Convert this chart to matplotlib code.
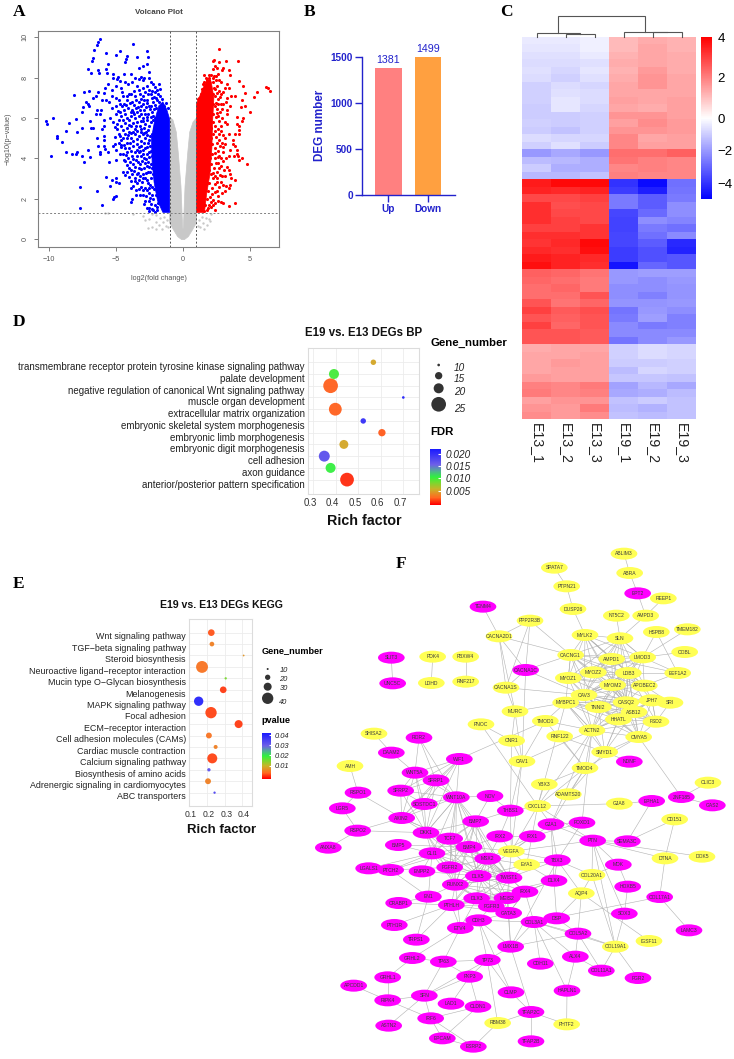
import itertools
import numpy as np
import matplotlib
matplotlib.use("Agg")
import matplotlib.pyplot as plt
from matplotlib.colors import LinearSegmentedColormap, Normalize, TwoSlopeNorm
from matplotlib.cm import ScalarMappable
from matplotlib.patches import Ellipse, Polygon
from matplotlib.collections import LineCollection
from matplotlib.transforms import ScaledTranslation

plt.rcParams['font.family'] = ['Liberation Sans', 'DejaVu Sans']

# ---------- panel A data ----------
grey_outline = [(-1.0,6.05),(-1.0,1.3),(-1.0,0.8),(-0.7,0.45),(-0.4,0.12),(-0.1,-0.03),(0.1,-0.03),(0.4,0.12),(0.7,0.45),
                (1.0,0.8),(1.0,1.3),(1.0,6.0),(0.75,5.8),(0.5,5.3),(0.35,4.26),(0.15,2.6),(0.03,0.6),(0.0,0.5),
                (-0.03,0.6),(-0.15,2.6),(-0.35,4.26),(-0.5,5.3),(-0.75,5.9)]
blue_core = [(-1.0,1.32),(-1.5,1.32),(-1.9,1.9),(-2.15,2.8),(-2.3,3.8),(-2.35,5.0),(-2.1,5.9),(-1.8,6.6),(-1.5,6.8),(-1.2,6.4),(-1.0,5.95)]
red_core = [(1.0,1.32),(1.6,1.32),(1.75,2.2),(2.0,3.2),(2.15,4.5),(2.2,5.8),(2.3,7.0),(2.1,7.8),(1.8,7.9),(1.5,7.5),(1.2,7.0),(1.0,6.7)]
grey_points = [(-3.7,1.25),(-3.0,1.15),(-2.8,0.95),(-2.5,1.0),(-2.6,0.55),(-2.3,0.6),(-2.0,0.85),(-2.0,0.5),(-1.7,1.05),(-1.8,0.7),
               (-1.6,0.5),(-1.5,0.85),(-1.4,1.1),(-1.3,0.65),(-1.2,0.95),(1.2,0.95),(1.3,0.6),(1.4,1.1),(1.5,0.8),(1.6,0.5),(1.7,1.05),
               (1.8,0.7),(1.9,1.0),(2.0,0.9),(-5.6,1.3),(-5.8,1.28),(-2.0,1.2),(-2.3,1.25),(2.1,1.25),(-1.1,0.6),(1.1,0.65)]
blue_points = [(-6.2,9.9),(-6.3,9.75),(-6.4,9.6),(-6.6,9.35),(-6.7,8.95),(-6.75,8.8),(-5.7,9.2),(-5.0,9.1),(-4.7,9.3),(-4.2,9.05),
 (-4.25,8.9),(-4.35,8.75),(-3.4,9.0),(-3.75,9.65),(-2.7,9.3),(-2.6,9.0),(-2.7,8.65),(-2.95,8.6),(-3.3,8.5),(-3.1,8.05),(-2.5,8.3),
 (-5.6,8.65),(-5.75,8.45),(-5.65,8.25),(-6.3,8.4),(-6.25,8.25),(-7.1,8.45),(-6.85,8.25),(-5.25,8.2),(-4.85,8.05),(-4.4,8.2),(-4.7,7.85),
 (-4.9,7.95),(-5.2,8.0),(-4.35,7.8),(-3.9,8.2),(-3.6,8.0),(-3.3,7.95),(-3.0,7.9),(-2.9,8.0),(-2.4,7.8),(-2.2,7.7),(-1.8,7.7),(-1.95,7.4),
 (-2.4,7.2),(-3.0,7.5),(-3.4,7.6),(-3.8,7.8),(-4.1,7.7),(-4.6,7.5),(-5.0,7.6),(-5.3,7.4),(-5.6,7.7),(-5.8,7.5),(-5.9,7.25),(-6.3,7.3),
 (-6.45,7.1),(-6.7,7.0),(-7.0,7.35),(-7.4,7.3),(-8.1,7.15),(-7.45,6.55),(-7.25,6.8),(-7.1,6.7),(-7.0,6.6),(-7.5,6.3),(-6.5,6.2),(-6.4,6.4),
 (-6.2,6.2),(-6.1,6.4),(-6.0,6.9),(-5.7,6.9),(-5.5,6.8),(-5.3,6.5),(-5.0,6.6),(-4.8,6.9),(-4.5,7.1),(-4.2,6.9),(-3.9,7.2),(-3.6,7.1),
 (-3.3,6.8),(-3.0,7.1),(-2.7,6.9),(-2.5,6.6),(-10.2,5.85),(-10.1,5.7),(-9.7,6.0),(-9.4,5.1),(-9.4,5.0),(-9.0,4.8),(-8.7,5.35),(-8.5,5.75),
 (-8.0,5.95),(-7.9,5.3),(-7.5,5.5),(-6.9,5.85),(-6.85,5.5),(-6.7,5.5),(-6.4,5.0),(-6.0,5.45),(-5.9,5.9),(-5.9,5.6),(-5.9,5.1),(-5.9,4.9),
 (-5.9,4.6),(-8.7,4.3),(-8.3,4.2),(-8.0,4.2),(-7.9,4.3),(-7.5,4.1),(-7.4,3.8),(-7.1,4.4),(-6.9,4.05),(-6.3,4.6),(-6.2,4.3),(-6.2,4.2),
 (-5.8,4.45),(-5.6,4.3),(-5.2,4.6),(-5.1,4.7),(-5.0,4.4),(-5.0,3.9),(-5.5,3.8),(-9.8,4.1),(-7.7,2.6),(-6.4,2.4),(-5.7,3.05),(-5.3,2.95),
 (-5.0,3.0),(-5.0,2.85),(-4.8,2.8),(-5.4,2.65),(-5.15,2.1),(-5.0,2.15),(-5.2,2.0),(-3.8,2.0),(-3.9,1.85),(-6.0,1.7),(-7.7,1.52),
 (-4.5,3.3),(-4.2,3.3),(-4.0,3.5),(-3.8,3.2),(-3.6,3.0),(-3.6,2.9),(-3.3,2.5),(-3.2,3.7),(-3.9,2.9),(-3.4,2.8),(-3.1,2.6),(-3.0,2.2),
 (-2.8,1.9),(-2.7,1.55),(-2.5,2.3),(-2.5,1.9),(-2.3,1.5),(-2.2,2.0),(-2.1,1.7),(-2.0,2.2),(-2.05,1.35),(-1.9,1.6),(-2.3,2.6),(-2.6,2.8),
 (-2.8,3.0),(-3.0,3.2),(-3.2,3.1),(-2.9,3.5),(-2.6,3.3),(-2.4,3.0),(-2.3,3.5),(-2.1,2.9),(-2.6,3.8),(-2.9,4.0),(-3.1,4.1),(-3.3,4.3),
 (-3.5,3.9),(-3.8,4.1),(-4.1,4.0),(-4.4,3.9),(-4.5,4.2),(-4.3,4.5),(-4.0,4.5),(-3.7,4.6),(-3.4,4.7),(-3.1,4.6),(-2.8,4.5),(-2.5,4.3),
 (-2.3,4.1),(-2.1,3.9),(-2.2,4.6),(-2.5,4.9),(-2.8,5.0),(-3.0,5.2),(-3.3,5.1),(-3.6,5.2),(-3.9,5.0),(-4.2,5.0),(-4.6,4.9),(-4.8,5.2),
 (-4.5,5.4),(-4.2,5.5),(-3.9,5.6),(-3.5,5.6),(-3.2,5.6),(-2.9,5.5),(-2.6,5.4),(-2.3,5.2),(-2.15,5.5),(-2.4,5.8),(-2.7,5.9),(-3.0,6.0),
 (-3.3,6.1),(-3.6,6.0),(-3.9,6.1),(-4.2,6.0),(-4.5,5.9),(-4.9,5.7),(-5.2,5.8),(-5.4,6.0),(-5.0,6.2),(-4.7,6.3),(-4.4,6.4),(-4.1,6.5),
 (-3.8,6.4),(-3.5,6.5),(-3.2,6.4),(-2.9,6.4),(-2.6,6.2),(-2.3,6.3),(-2.1,6.0),(-2.0,6.5),(-1.8,6.8),(-2.2,6.8),(-2.0,7.0),(-1.6,6.7),
 (-1.4,6.6),(-1.7,7.1),(-2.5,7.4),(-2.8,7.3),(-3.2,7.2),(-3.5,6.9),(-3.8,6.8),(-4.05,7.2),(-4.4,6.7),(-4.7,6.7),(-5.0,7.0),(-5.3,7.1),
 (-2.1,5.1),(-2.05,4.3),(-2.1,3.4),(-2.15,2.5),(-2.4,3.7),(-2.7,4.2),(-2.45,4.6),(-2.75,5.3),(-2.25,5.9),(-2.95,5.85),(-3.15,5.3),(-3.4,4.4),
 (-3.75,5.3),(-4.05,5.3),(-4.35,5.2),(-4.65,5.6),(-4.0,5.9),(-3.7,6.3),(-3.0,6.7),(-2.75,6.55),(-2.3,7.0)]
blue_points_dense = [(-2.45,2.05),(-2.65,2.45),(-2.85,2.55),(-2.55,1.55),(-2.35,1.75),(-2.2,1.45),(-1.95,1.45),(-1.85,1.8),(-2.75,2.15),(-2.95,2.45),
 (-3.05,2.85),(-3.25,2.95),(-3.45,3.2),(-3.15,3.45),(-2.75,3.25),(-2.5,3.55),(-2.85,3.75),(-3.05,3.85),(-3.3,3.5),(-3.55,3.55),(-3.75,3.7),(-3.65,3.35),
 (-3.9,3.4),(-4.15,3.65),(-4.3,3.85),(-3.95,3.8),(-3.7,3.95),(-3.45,4.1),(-3.2,4.35),(-3.0,4.4),(-2.75,3.95),(-2.55,4.05),(-2.4,4.35),(-2.65,4.55),
 (-2.9,4.75),(-3.15,4.85),(-3.45,4.95),(-3.7,4.85),(-3.95,4.75),(-4.2,4.75),(-4.4,4.65),(-4.65,4.55),(-4.15,4.3),(-3.85,4.35),(-3.6,4.3),(-3.25,4.55),
 (-2.95,4.2),(-2.6,4.75),(-2.45,5.1),(-2.65,5.15),(-2.9,5.25),(-3.1,5.45),(-3.4,5.35),(-3.6,5.45),(-3.85,5.25),(-4.1,5.15),(-4.45,5.0),(-4.7,5.1),
 (-4.9,5.45),(-4.3,5.75),(-4.05,5.65),(-3.75,5.75),(-3.45,5.8),(-3.15,5.85),(-2.85,5.7),(-2.55,5.6),(-2.4,6.05),(-2.65,6.05),(-2.85,6.2),(-3.1,6.2),
 (-3.4,6.3),(-3.65,6.2),(-3.9,6.3),(-4.3,6.2),(-4.6,6.1),(-2.25,6.1),(-2.15,6.45),(-2.45,6.45),(-2.65,6.75),(-2.9,6.9),(-3.15,6.95),(-2.35,6.6),
 (-2.1,6.65),(-1.9,6.9),(-2.15,7.05),(-2.3,7.35),(-2.6,7.2),(-1.85,7.2),(-2.05,7.3),(-1.75,7.45),(-2.1,7.55),(-1.55,6.95),(-1.3,6.75),(-1.15,6.5),
 (-2.45,2.7),(-2.7,2.95),(-2.2,3.2),(-2.45,3.3),(-2.3,2.2),(-2.55,2.55),(-3.2,2.2),(-3.5,2.45),(-3.7,2.65),(-3.85,2.55),(-3.5,2.2),(-2.9,1.75),(-2.55,1.4),
 (-3.35,3.25),(-4.35,3.15),(-4.05,3.05),(-3.35,3.8),(-2.95,3.0),(-2.65,3.6),(-4.25,4.15),(-4.7,4.2),(-4.6,4.65),(-4.8,4.75),(-5.05,5.05),(-5.1,5.55),(-4.75,5.9),
 (-4.85,6.35),(-4.55,6.6),(-4.25,6.65),(-3.95,6.75),(-3.65,6.65),(-3.35,6.55),(-3.1,6.6),(-4.15,7.1),(-4.55,7.3),(-3.65,7.35),(-3.25,7.4),(-2.7,7.6),(-2.55,8.0)]
red_points = [(6.2,7.55),(6.3,7.5),(6.5,7.35),(5.5,7.3),(5.25,7.05),(5.0,6.3),(4.6,7.25),(4.5,7.6),(4.2,7.85),(3.9,7.1),(4.4,6.9),(4.3,6.55),
 (4.6,6.6),(4.5,6.0),(4.4,5.85),(4.0,6.05),(4.0,5.7),(4.15,5.6),(4.15,5.4),(4.2,5.2),(3.9,5.2),(3.7,4.9),(3.9,4.6),(3.7,4.7),(4.0,4.4),
 (4.0,4.2),(3.8,4.1),(4.1,4.1),(4.2,3.9),(4.4,4.0),(4.75,3.7),(3.3,3.55),(3.4,3.4),(3.5,3.2),(3.9,2.95),(3.6,3.0),(3.5,2.7),(3.4,2.55),
 (3.0,2.7),(2.9,2.3),(2.6,1.9),(2.8,1.85),(3.4,1.65),(3.85,1.8),(3.0,1.8),(2.7,9.4),(4.1,8.8),(3.2,8.8),(2.3,8.85),(2.2,8.8),(2.7,8.75),
 (3.0,8.5),(3.4,8.4),(3.5,8.15),(2.9,8.4),(2.5,8.5),(2.4,8.6),(2.2,8.45),(1.9,8.15),(2.2,8.0),(1.8,7.9),(3.3,7.7),(3.4,7.5),(3.6,7.1),
 (3.3,7.0),(3.2,6.8),(3.0,6.7),(3.0,7.3),(3.1,7.5),(3.5,6.6),(3.3,6.4),(3.3,6.2),(2.9,6.0),(3.1,5.8),(3.3,5.7),(3.4,5.2),(3.1,5.0),
 (3.1,4.7),(3.5,4.4),(3.0,4.3),(3.2,4.0),(2.7,4.1),(3.4,4.1),(2.3,8.1),(2.45,7.9),(2.6,8.2),(2.7,7.9),(2.85,7.8),(2.5,7.6),(2.3,7.5),
 (2.65,7.35),(2.85,7.2),(2.4,7.1),(2.6,6.95),(2.8,6.7),(2.35,6.6),(2.55,6.45),(2.75,6.3),(2.25,6.2),(2.45,6.05),(2.7,5.85),(2.2,5.8),
 (2.4,5.6),(2.6,5.45),(2.85,5.35),(2.25,5.2),(2.45,5.05),(2.7,4.9),(2.9,4.75),(2.15,4.7),(2.35,4.5),(2.6,4.35),(2.85,4.0),(2.15,4.2),
 (2.4,4.0),(2.6,3.75),(2.85,3.6),(2.1,3.7),(2.3,3.5),(2.55,3.3),(2.75,3.15),(2.05,3.2),(2.25,3.0),(2.5,2.85),(2.7,2.6),(1.95,2.8),
 (2.15,2.55),(2.35,2.35),(2.55,2.4),(1.85,2.4),(2.0,2.1),(2.2,1.95),(2.35,1.8),(1.75,2.0),(1.9,1.7),(2.1,1.6),(1.65,1.7),(1.8,1.45),
 (1.55,1.4),(2.4,1.45),(2.05,5.0),(2.1,6.5),(2.1,5.5),(1.95,7.9),(1.7,8.0),(1.5,7.7),(1.35,7.2),(1.6,7.8),(1.2,7.0),(2.25,7.8),(2.2,7.2),
 (2.2,6.7),(2.0,4.0),(1.95,3.4),(1.75,2.8),(2.45,6.75),(2.5,6.25),(2.6,6.7),(2.4,5.35),(2.5,4.75),(2.35,4.25),(2.45,3.75),(2.25,3.25),(2.35,2.75),
 (2.15,2.25),(2.55,3.0),(2.7,3.5),(2.6,4.05),(2.75,4.6),(2.65,5.2),(2.85,5.6),(2.6,6.1),(2.9,6.45),(2.75,7.05),(2.55,7.25),(2.4,7.45),(2.45,8.1),(2.05,8.15),
 (1.6,8.15),(1.9,8.0),(1.45,7.45),(1.1,6.95),(2.95,5.15),(3.0,4.55),(2.95,3.85),(3.05,3.4),(2.9,3.1),(2.4,3.1),(2.05,1.85),(1.85,1.55),(2.25,1.7),(2.6,2.15),
 (2.85,2.85),(3.15,3.1),(3.1,2.4),(3.2,2.65)]

# ---------- panel B data ----------
deg_labels = ['Up', 'Down']
deg_counts = [1381, 1499]
deg_colors = ['#ff8080', '#ffa040']

# ---------- panel C data ----------
sample_names = ['E13_1', 'E13_2', 'E13_3', 'E19_1', 'E19_2', 'E19_3']
heat_rows = [
 [-.4,-.4,-.3,1.1,1.3,1.2],[-.5,-.5,-.3,1.1,1.4,1.2],[-.6,-.6,-.4,1.2,1.4,1.3],[-.7,-.7,-.6,1.3,1.4,1.3],
 [-.6,-.8,-.5,1.2,1.6,1.3],[-.7,-.9,-.6,1.3,1.7,1.4],[-.9,-.7,-.8,1.4,1.7,1.4],[-.9,-.6,-.7,1.4,1.4,1.4],
 [-.9,-.5,-.7,1.5,1.4,1.5],[-1,-.5,-.8,1.4,1.3,1.5],[-1,-1,-.9,1.7,1.7,1.5],[-.9,-1,-.9,1.5,1.8,1.6],
 [-1,-1.2,-.9,1.7,1.7,1.6],[-.7,-.8,-.8,1.9,1.4,1.5],[-.9,-.6,-1,1.9,1.5,1.5],[-2,-1.7,-2,2.3,2.3,2.5],
 [-1.3,-1.4,-1.6,2.2,2.0,1.9],[-1.0,-1.6,-1.6,1.9,2.0,1.9],[-1.4,-1.4,-1.2,2,1.9,1.9],
 [3.6,3.9,3.9,-4,-4.8,-2.8],[3.5,3.4,3.5,-3.8,-4.4,-2.7],[2.9,2.9,3,-2.6,-3.2,-2.6],[3.3,2.8,2.9,-2.6,-3.2,-2.2],
 [3.3,2.9,2.9,-3.6,-2.9,-2.2],[3.3,3,2.9,-3.7,-2.2,-2.4],[3,3,3.2,-3.7,-2.6,-2.8],[3.3,3.3,3.2,-3.6,-2.8,-2.3],
 [3.2,3.4,3.9,-3.6,-3.2,-4.2],[3.4,3.3,3.8,-3.8,-3.4,-4.3],[3.6,3.5,3.4,-3.8,-3.4,-3.3],[3.8,3.5,3.3,-4.6,-3,-3.3],
 [2.5,2.4,2.2,-2,-1.9,-1.9],[2.4,2.3,2.1,-2,-2.2,-2],[2.3,2.4,2.1,-2.2,-2.2,-2.1],[2.3,2.3,2.7,-2.2,-2.5,-2.1],
 [2.7,2.2,2.4,-2.1,-2.1,-2],[3.0,2.6,2.8,-2.7,-2.0,-2.2],[2.7,2.5,2.7,-2.6,-1.9,-2.5],[3,2.4,2.7,-2.3,-2.6,-2.5],
 [2.7,2.7,2.6,-2.3,-2.3,-2.3],[2.7,2.7,2.6,-2.7,-2.3,-2.0],
 [1.3,1.4,1.4,-.9,-.7,-.8],[1.4,1.4,1.5,-.9,-.7,-.8],[1.4,1.6,1.5,-1,-1,-.9],[1.4,1.5,1.5,-1.3,-.8,-.9],
 [1.6,1.5,1.5,-1.1,-1.1,-1.2],[2.0,1.9,2.1,-1.8,-1.4,-1.7],[2.1,1.9,2.0,-1.7,-1.6,-1.3],[1.5,1.7,1.7,-1.2,-1.0,-1.2],
 [1.7,1.6,2.1,-1.3,-1.5,-1.2],[1.8,1.6,1.8,-1.2,-1.3,-1.2]]
# dendrogram merges: left x, right x, height, left child height, right child height
dendro_merges = [(1.5,2.5,0.125,0,0),(0.5,2.0,0.17,0,0.125),(4.5,5.5,0.23,0,0),(3.5,5.0,0.25,0,0.23),(1.25,4.25,1.0,0.17,0.25)]

# ---------- panel D data ----------
bp_terms = ['anterior/posterior pattern specification','axon guidance','cell adhesion','embryonic digit morphogenesis',
            'embryonic limb morphogenesis','embryonic skeletal system morphogenesis','extracellular matrix organization',
            'muscle organ development','negative regulation of canonical Wnt signaling pathway','palate development',
            'transmembrane receptor protein tyrosine kinase signaling pathway']
bp_rich = [0.45,0.377,0.349,0.436,0.605,0.522,0.398,0.70,0.377,0.392,0.567]
bp_genes = [24,20,21,18,15,13,23,10,25,20,13]
bp_fdr = [0.0005,0.0105,0.017,0.005,0.0018,0.020,0.002,0.021,0.002,0.010,0.005]
bp_legend_genes = [10,15,20,25]
bp_ticks = [0.3,0.4,0.5,0.6,0.7]

# ---------- panel E data ----------
kegg_terms = ['ABC transporters','Adrenergic signaling in cardiomyocytes','Biosynthesis of amino acids','Calcium signaling pathway',
              'Cardiac muscle contraction','Cell adhesion molecules (CAMs)','ECM\u2212receptor interaction','Focal adhesion',
              'MAPK signaling pathway','Melanogenesis','Mucin type O\u2212Glycan biosynthesis','Neuroactive ligand\u2212receptor interaction',
              'Steroid biosynthesis','TGF\u2212beta signaling pathway','Wnt signaling pathway']
kegg_rich = [0.243,0.206,0.211,0.23,0.249,0.211,0.379,0.223,0.153,0.292,0.306,0.172,0.4075,0.228,0.2245]
kegg_genes = [11,22,14,36,16,22,30,40,34,25,11,42,9,18,25]
kegg_p = [0.034,0.005,0.032,0.001,0.005,0.004,0.0005,0.001,0.04,0.0005,0.015,0.004,0.007,0.005,0.002]
kegg_legend_genes = [10,20,30,40]
kegg_ticks = [0.1,0.2,0.3,0.4]

# ---------- panel F data ----------
net_yellow = {'ABLIM3':(972,41),'ABRA':(989,99),'SPATA7':(763,83),'PTPN21':(800,139),'REEP1':(1090,175),'DUSP26':(819,207),
 'NT5C2':(949,227),'AMPD3':(1037,227),'PPP2R3B':(690,242),'TMEM182':(1162,268),'HSPB8':(1069,276),'MYLK2':(855,285),
 'CACNA2D1':(597,289),'SLN':(960,295),'COBL':(1154,336),'CACNG1':(812,345),'AMPD1':(935,357),'LMOD3':(1028,352),
 'PDK4':(398,350),'FBXW4':(497,350),'EEF1A2':(1133,399),'MYOZ2':(880,397),'LDB3':(985,399),'MYOZ1':(805,414),
 'LDHD':(394,429),'RNF217':(497,425),'MYOM2':(938,435),'APOBEC2':(1033,437),'CACNA1S':(618,443),'CAV3':(852,465),
 'CASQ2':(978,487),'JPH7':(1056,481),'SRI':(1110,488),'MYBPC1':(797,488),'TNNI2':(895,501),'MURC':(645,514),
 'ASB12':(1002,516),'HHATL':(955,538),'FSD2':(1068,545),'TMOD1':(736,543),'PNOC':(543,553),'ACTN2':(876,571),
 'RNF122':(779,589),'CMYA5':(1016,591),'CNR1':(635,602),'SHISA2':(222,581),'SMYD1':(914,636),'CAV1':(666,664),
 'AMH':(150,678),'TMOD4':(855,684),'YBX3':(733,733),'CLIC3':(1224,728),'ADAMTS20':(805,763),
 'GJA8':(958,791),'CXCL12':(713,798),'CD151':(1124,838),'VEGFA':(634,934),'DOK5':(1206,950),'DTNA':(1095,955),
 'EYA1':(680,974),'COL20A1':(876,1005),'AQP4':(844,1060),'IGSF11':(1047,1203),'COL19A1':(946,1220),
 'RBM38':(593,1449),'PHTF2':(800,1453)}
net_magenta = {'EPT2':(1013,160),'TENM4':(549,200),'SLIT3':(274,353),'CACNA1C':(677,390),'UNC5C':(278,430),'ROR2':(357,593),
 'DAAM2':(274,638),'WIF1':(478,657),'NDNF':(988,665),'WNT5A':(345,698),'SFRP1':(408,721),'RSPO1':(174,758),'SFRP2':(302,752),
 'WNT10A':(469,772),'NOV':(570,768),'ZNF185':(1144,771),'EPHA1':(1055,783),'GAS2':(1237,796),'LGR5':(127,805),
 'SOSTDC1':(373,792),'THBS1':(631,812),'AXIN2':(305,834),'BMP7':(527,844),'GJA1':(753,853),'FOXD1':(846,848),
 'RSPO2':(173,872),'DKK1':(378,878),'TCF7':(449,896),'IRX2':(599,889),'IRX1':(697,889),'PTN':(878,902),'SEMA3C':(982,904),
 'BMP5':(295,915),'BMP4':(507,921),'ANXA8':(85,923),'GLI1':(396,940),'MSX2':(563,956),'TBX3':(772,961),'MDK':(955,974),
 'LGALS1':(206,985),'PTCH2':(272,990),'ENPP2':(366,994),'FGFR2':(449,982),'DLX5':(535,1008),'TWIST1':(627,1013),
 'DLX4':(762,1022),'RUNX2':(466,1034),'HOXB5':(983,1040),'IRX4':(675,1055),'COL17A1':(1079,1071),'EN1':(385,1070),
 'DLX3':(530,1075),'MEIS2':(621,1074),'CRABP1':(296,1089),'PTHLH':(454,1095),'FGFR3':(574,1099),'GATA3':(626,1119),
 'SOX3':(973,1121),'DSP':(770,1135),'CDH3':(536,1141),'COL3A1':(702,1146),'PTH1R':(283,1155),'ETV4':(481,1164),
 'LAMC3':(1167,1171),'COL5A2':(834,1181),'TRPS1':(349,1199),'LMX1B':(632,1220),'ALX4':(826,1250),'GRHL2':(337,1254),
 'TP63':(430,1265),'TP73':(562,1260),'CDH11':(721,1271),'COL11A1':(904,1292),'GRHL1':(263,1312),'PKP3':(509,1310),
 'FGR2':(1014,1314),'APCDD1':(161,1337),'HAPLN1':(801,1352),'CLMP':(633,1357),'SFN':(373,1367),'RIPK4':(263,1381),
 'LAD1':(453,1391),'CLDN1':(534,1400),'TFAP2C':(693,1416),'IRF6':(392,1435),'ASTN2':(266,1457),'EPCAM':(427,1495),
 'TFAP2B':(693,1504),'ESRP2':(520,1520)}
net_dense_groups = [
 ['MYLK2','SLN','CACNG1','AMPD1','LMOD3','MYOZ2','LDB3','MYOZ1','MYOM2','APOBEC2','CAV3','CASQ2'],
 ['CAV3','CASQ2','JPH7','MYBPC1','TNNI2','ASB12','HHATL','FSD2','ACTN2','CMYA5','MYOM2','LDB3'],
 ['WIF1','WNT5A','SFRP1','SFRP2','SOSTDC1','WNT10A','AXIN2','DKK1'],
 ['DKK1','TCF7','BMP4','GLI1','MSX2','FGFR2','DLX5','TWIST1','RUNX2','BMP7','WNT10A'],
 ['DLX5','RUNX2','DLX3','MEIS2','FGFR3','PTHLH','GATA3','MSX2','TWIST1','IRX4'],
]
net_edges = """ABLIM3-ABRA ABRA-EPT2 EPT2-AMPD3 REEP1-AMPD3 AMPD3-SLN NT5C2-SLN SPATA7-PTPN21 PTPN21-DUSP26 DUSP26-MYLK2 HSPB8-LMOD3
TMEM182-LMOD3 COBL-LMOD3 HSPB8-EEF1A2 TENM4-CACNA2D1 PPP2R3B-CACNA2D1 PPP2R3B-CACNA1C PPP2R3B-CACNA1S PPP2R3B-CACNG1
CACNA2D1-CACNA1C CACNA2D1-CACNA1S CACNA2D1-CACNG1 CACNA2D1-MURC CACNA1C-CACNG1 CACNA1C-CACNA1S CACNA1C-CAV3 CACNA1C-CAV1
CACNA1S-CAV3 CACNA1S-MURC MURC-MYBPC1 MURC-CAV1 MURC-CNR1 TMOD1-ACTN2 TMOD1-MYBPC1 TMOD1-CAV1 TMOD1-TMOD4 PNOC-CNR1 PNOC-CXCL12
CNR1-CAV1 WIF1-TMOD1 CAV1-ACTN2 RNF122-SMYD1 RNF122-TMOD4 ACTN2-SMYD1 ACTN2-TMOD4 CMYA5-SMYD1 CMYA5-TMOD4 CMYA5-ZNF185 SMYD1-NDNF
TMOD4-YBX3 TMOD4-ADAMTS20 SMYD1-ADAMTS20 ACTN2-FOXD1 YBX3-CXCL12 ZNF185-CLIC3 ZNF185-GAS2 CAV1-VEGFA CAV1-THBS1 CNR1-THBS1
MYBPC1-CXCL12 ACTN2-GJA1 ACTN2-CXCL12 TMOD4-CXCL12 TMOD4-GJA1 EEF1A2-LDB3 EEF1A2-APOBEC2 EEF1A2-LMOD3 EEF1A2-AMPD1 SRI-JPH7
SRI-CASQ2 SRI-FSD2 SRI-APOBEC2 JPH7-ASB12 JPH7-APOBEC2 JPH7-FSD2 MYLK2-AMPD1 SLN-LMOD3 CACNG1-TNNI2 CACNG1-MYBPC1 MYOZ1-TNNI2 MYOZ1-ACTN2
MYBPC1-ACTN2 MYBPC1-SMYD1 TNNI2-SMYD1 HHATL-SMYD1 CASQ2-SMYD1 ASB12-SMYD1 AMH-RSPO1 SHISA2-DAAM2 DAAM2-WNT5A ROR2-WNT5A ROR2-SFRP1
ROR2-WNT10A RSPO1-AXIN2 RSPO1-LGR5 LGR5-RSPO2 RSPO2-AXIN2 RSPO2-DKK1 RSPO2-ANXA8 AXIN2-TCF7 AXIN2-BMP4 BMP5-BMP4 BMP5-GLI1 LGALS1-GLI1
PTCH2-GLI1 PTCH2-EN1 PTCH2-BMP4 PTCH2-FGFR2 ENPP2-GLI1 ENPP2-DLX5 NOV-WNT10A NOV-THBS1 NOV-BMP7 THBS1-BMP7 THBS1-CXCL12 THBS1-IRX2 THBS1-VEGFA
CXCL12-VEGFA CXCL12-GJA1 CXCL12-GJA8 CXCL12-PTN CXCL12-EYA1 GJA8-EPHA1 GJA1-PTN GJA1-FOXD1 GJA1-VEGFA GJA1-TBX3 GJA1-DLX4 FOXD1-TBX3 FOXD1-IRX1
IRX1-IRX2 IRX1-VEGFA IRX1-MSX2 IRX2-VEGFA IRX2-BMP4 IRX2-MSX2 VEGFA-BMP4 VEGFA-MSX2 VEGFA-EYA1 VEGFA-PTN VEGFA-DLX5 VEGFA-TBX3 VEGFA-TWIST1 EYA1-MSX2 EYA1-TBX3 EYA1-DLX5
EYA1-TWIST1 EYA1-DLX4 TBX3-TWIST1 TBX3-DLX4 TBX3-COL20A1 TBX3-AQP4 TBX3-LMX1B DLX4-IRX4 DLX4-DSP DLX4-MEIS2 DLX4-DLX3 IRX4-GATA3 IRX4-COL3A1 PTN-SEMA3C
PTN-DOK5 PTN-DTNA PTN-MDK PTN-COL20A1 PTN-SOX3 PTN-COL19A1 MDK-HOXB5 HOXB5-SOX3 SEMA3C-CD151 SEMA3C-EPHA1 CD151-DTNA DTNA-COL17A1 COL17A1-LAMC3
COL17A1-COL3A1 COL20A1-AQP4 COL20A1-MDK COL20A1-COL19A1 AQP4-DSP AQP4-COL5A2 AQP4-IGSF11 SOX3-COL19A1 DSP-COL3A1 DSP-COL5A2 COL3A1-COL5A2 COL3A1-COL19A1
COL3A1-LMX1B COL3A1-CDH11 COL3A1-HAPLN1 COL3A1-CDH3 COL3A1-ALX4 COL5A2-COL19A1 COL5A2-COL11A1 COL5A2-ALX4 COL5A2-LMX1B COL19A1-COL11A1 COL19A1-FGR2
ALX4-HAPLN1 ALX4-COL11A1 HAPLN1-PHTF2 PTHLH-PTH1R PTHLH-TRPS1 PTHLH-CRABP1 PTHLH-EN1 PTHLH-ETV4 RUNX2-EN1 RUNX2-ETV4 EN1-TRPS1 EN1-GLI1 EN1-CRABP1
ETV4-CDH3 ETV4-GRHL2 ETV4-TP63 GATA3-LMX1B GATA3-CDH3 MEIS2-LMX1B FGFR3-CDH3 CDH3-TP73 CDH3-CLMP CDH3-LMX1B DLX3-ETV4 GRHL2-GRHL1 GRHL2-TP63 TP63-TP73 TP63-SFN
TP63-PKP3 TP73-PKP3 TP73-CLMP TP73-RBM38 TP73-LMX1B PKP3-SFN PKP3-LAD1 PKP3-CLDN1 GRHL1-RIPK4 APCDD1-RIPK4 RIPK4-SFN RIPK4-IRF6 SFN-IRF6 SFN-ASTN2 IRF6-EPCAM
IRF6-ESRP2 CLDN1-EPCAM CLDN1-IRF6 EPCAM-ESRP2 ESRP2-RBM38 RBM38-TFAP2C TFAP2C-TFAP2B TFAP2C-PHTF2 TFAP2C-CLMP SFN-TP73 SLIT3-UNC5C PDK4-LDHD FBXW4-RNF217
LMX1B-TFAP2C"""

# ---------- layout helpers ----------
W, H = 734, 1059
fig = plt.figure(figsize=(W/100, H/100), dpi=100)
PX = 1/100

def px_axes(l, t, r, b, **kw):
    return fig.add_axes([l/W, 1-b/H, (r-l)/W, (b-t)/H], **kw)

def shift(artist_list, dx_px=0, dy_px=0):
    off = ScaledTranslation(dx_px*PX, dy_px*PX, fig.dpi_scale_trans)
    for a in artist_list:
        a.set_transform(a.get_transform() + off)

def area(d_px):
    return (np.asarray(d_px)*0.72)**2

# ---------- F: network ----------
axF = px_axes(300, 540, 734, 1059)
axF.set_xlim(0, 1302); axF.set_ylim(1557, 0); axF.axis('off')
positions = {**net_yellow, **net_magenta}
pairs = [tuple(e.split('-')) for e in net_edges.split()]
for group in net_dense_groups:
    pairs += list(itertools.combinations(group, 2))
axF.add_collection(LineCollection([(positions[a], positions[b]) for a, b in pairs], colors='#b4b4b4', linewidths=0.42, zorder=1))
for nodes, col in ((net_yellow, '#ffff55'), (net_magenta, '#ff00ff')):
    for name, (nx, ny) in nodes.items():
        axF.add_patch(Ellipse((nx, ny), 80, 36, facecolor=col, edgecolor='none', zorder=2))
        axF.text(nx, ny, name, fontsize=3.6, color='#3c3c3c', ha='center', va='center', zorder=3)

# ---------- A: volcano ----------
axA = px_axes(37.7, 31, 279.3, 246.7)
axA.set_xlim(-10.82, 7.17); axA.set_ylim(-0.38, 10.31)
axA.add_patch(Polygon(grey_outline, facecolor='#c8c8c8', edgecolor='#c8c8c8', lw=0.5, zorder=1))
gx, gy = zip(*grey_points)
axA.scatter(gx, gy, s=area(2.4), color='#c8c8c8', linewidths=0, zorder=1)
axA.add_patch(Polygon(blue_core, facecolor='#0000ff', edgecolor='#0000ff', lw=0.5, zorder=2))
axA.add_patch(Polygon(red_core, facecolor='#ff0000', edgecolor='#ff0000', lw=0.5, zorder=2))
bx, by = zip(*(blue_points + blue_points_dense))
rx, ry = zip(*red_points)
axA.scatter(bx, by, s=area(3.1), color='#0000ff', linewidths=0, zorder=3)
axA.scatter(rx, ry, s=area(3.1), color='#ff0000', linewidths=0, zorder=3)
axA.axhline(1.3, color='#808080', lw=0.7, ls=(0, (2, 2)), zorder=4)
axA.axvline(-1, color='#555555', lw=0.7, ls=(0, (2, 2)), zorder=4)
axA.axvline(1, color='#555555', lw=0.7, ls=(0, (2, 2)), zorder=4)
axA.set_xticks([-10, -5, 0, 5]); axA.set_yticks([0, 2, 4, 6, 8, 10])
axA.set_xticklabels(['\u221210', '\u22125', '0', '5'])
axA.tick_params(labelsize=5.2, length=3, width=0.6, color='#666666', labelcolor='#555555', pad=3.5)
for t in axA.get_yticklabels():
    t.set_rotation(90); t.set_va('center')
for s in axA.spines.values():
    s.set_color('#808080'); s.set_linewidth(0.8)
axA.set_xlabel('log2(fold change)', fontsize=5.2, color='#555555', labelpad=9)
axA.set_ylabel('\u2212log10(p\u2212value)', fontsize=5.2, color='#555555', labelpad=7)
axA.set_title('Volcano Plot', fontsize=5.8, fontweight='bold', color='#444444', pad=12)

# ---------- B: bars ----------
axB = px_axes(362, 56.7, 454.7, 194.7)
blue = '#2222cc'
bars = axB.bar(range(2), deg_counts, width=0.675, color=deg_colors)
axB.set_xlim(-0.667, 1.68); axB.set_ylim(0, 1500)
axB.bar_label(bars, fontsize=7.7, color=blue, padding=2)
axB.set_xticks(range(2)); axB.set_xticklabels(deg_labels, fontweight='bold')
axB.set_yticks([0, 500, 1000, 1500])
axB.tick_params(colors=blue, labelsize=7.2, width=1, length=5, pad=1.5)
for t in axB.get_yticklabels():
    t.set_fontweight('bold')
for side in ('top', 'right'):
    axB.spines[side].set_visible(False)
for side in ('left', 'bottom'):
    axB.spines[side].set_color(blue); axB.spines[side].set_linewidth(1)
axB.set_ylabel('DEG number', fontsize=8.4, fontweight='bold', color=blue, labelpad=3)

# ---------- C: heatmap ----------
heat = np.array(heat_rows)
heat_cmap = LinearSegmentedColormap.from_list('bwr2', ['#0000ff', '#ffffff', '#ff0000'])
heat_norm = TwoSlopeNorm(vmin=-5, vcenter=0, vmax=4.04)
axC = px_axes(522.3, 37, 696, 419)
mesh = axC.pcolormesh(heat, cmap=heat_cmap, norm=heat_norm, rasterized=True)
axC.invert_yaxis()
axC.set_yticks([])
axC.set_xticks(np.arange(6)+0.5); axC.set_xticklabels(sample_names, rotation=270, fontsize=10.2, color='#222222')
axC.tick_params(axis='x', length=0, pad=3)
for s in axC.spines.values():
    s.set_visible(False)
axCd = px_axes(522.3, 15.7, 696, 37)
axCd.set_xlim(0, 6); axCd.set_ylim(0, 1.0); axCd.axis('off')
for xa, xb, h, ha_, hb_ in dendro_merges:
    axCd.plot([xa, xa, xb, xb], [ha_, h, h, hb_], color='#555555', lw=0.8, solid_joinstyle='miter', clip_on=False)
caxC = px_axes(701, 37, 712, 199.3)
cbC = fig.colorbar(mesh, cax=caxC, ticks=[-4, -2, 0, 2, 4])
cbC.ax.set_yticklabels(['\u22124', '\u22122', '0', '2', '4'])
cbC.ax.tick_params(length=0, labelsize=9.5, pad=4)
cbC.outline.set_visible(False)

# ---------- D / E: bubble plots ----------
enrich_cmap = LinearSegmentedColormap.from_list('enrich', [(0, '#ff0000'), (.13, '#ff6a20'), (.28, '#c8b428'), (.42, '#66e030'),
                                                           (.5, '#30f040'), (.6, '#50b090'), (.72, '#6d5fe8'), (1, '#1a1aff')])

def bubble(box, terms, rich, genes, values, norm, xlim, ylim, ticks, gene_xp, gene_dp, title, title_x, title_y, xlab_y,
           lab_dy, tick_dx, fs, fs_tick, fs_title, fs_xlab):
    ax = px_axes(*box)
    d = np.interp(genes, gene_xp, gene_dp)/3
    ax.set_axisbelow(True)
    ax.grid(True, color='#ececec', lw=0.6)
    ax.scatter(rich, range(len(terms)), s=area(d), c=values, cmap=enrich_cmap, norm=norm, linewidths=0, alpha=0.95, zorder=3, clip_on=False)
    ax.set_xlim(*xlim); ax.set_ylim(*ylim)
    ax.set_yticks(range(len(terms))); ax.set_yticklabels(terms, fontsize=fs, color='#222222')
    ax.set_xticks(ticks)
    ax.tick_params(length=0, pad=2.5)
    ax.tick_params(axis='x', labelsize=fs_tick, labelcolor='#303030', pad=3)
    shift(ax.get_yticklabels(), 0, -lab_dy)
    shift(ax.get_xticklabels(), tick_dx, 0)
    for s in ax.spines.values():
        s.set_color('#dcdcdc'); s.set_linewidth(0.8)
    ov.text(title_x, title_y, title, fontsize=fs_title, fontweight='bold', ha='center', va='center', color='#111111')
    ov.text(title_x, xlab_y, 'Rich factor', fontsize=fs_xlab, fontweight='bold', ha='center', va='center', color='#111111')
    return ax

def legend(x_dot, x_text, x_title, y_title, y_dots, y_texts, labels, dots, title, fstitle, fslab, y_title2, title2):
    ov.text(x_title, y_title, title, fontsize=fstitle, fontweight='bold', va='center')
    ov.scatter([x_dot]*len(y_dots), y_dots, s=area(np.asarray(dots)/3), color='#333333', linewidths=0)
    for yy, lab in zip(y_texts, labels):
        ov.text(x_text, yy, str(lab), fontsize=fslab, style='italic', va='center', color='#222222')
    ov.text(x_title, y_title2, title2, fontsize=fstitle, fontweight='bold', va='center')

ov = fig.add_axes([0, 0, 1, 1], zorder=10)
ov.set_xlim(0, W); ov.set_ylim(H, 0); ov.axis('off')

norm_D = Normalize(-0.0007, 0.022)
gene_xp_D = [5, 10, 15, 20, 25, 30]
gene_dp_D = [4, 8, 22, 30, 44, 50]
bubble((308.3, 348.3, 419.3, 494.3), bp_terms, bp_rich, bp_genes, bp_fdr, norm_D, (0.278, 0.771), (-1.25, 11.19), bp_ticks,
       gene_xp_D, gene_dp_D, 'E19 vs. E13 DEGs BP', 364, 333, 521, 4, -3, 7.0, 6.9, 8.3, 10.3)
legend(1316/3, 1362/3, 1291/3, 343, [365, 375.7, 388.3, 404.3], [367.7, 379.3, 391.7, 409], bp_legend_genes,
       np.interp(bp_legend_genes, gene_xp_D, gene_dp_D), 'Gene_number', 8.2, 7.2, 432.3, 'FDR')
caxD = px_axes(430.3, 449, 441, 504.7)
cbD = fig.colorbar(ScalarMappable(norm_D, enrich_cmap), cax=caxD, ticks=[0.005, 0.010, 0.015, 0.020])
cbD.ax.set_yticklabels(['0.005', '0.010', '0.015', '0.020'], style='italic', color='#222222')
cbD.ax.tick_params(length=2, color='white', direction='in', labelsize=7.2, pad=3)
cbD.outline.set_visible(False)

norm_E = Normalize(-0.0027, 0.042)
gene_xp_E = [5, 10, 20, 30, 40, 45]
gene_dp_E = [3, 6, 16, 24, 34, 38]
bubble((189.3, 619.3, 252.3, 806), kegg_terms, kegg_rich, kegg_genes, kegg_p, norm_E, (0.1, 0.4566), (-1.167, 15.167), kegg_ticks,
       gene_xp_E, gene_dp_E, 'E19 vs. E13 DEGs KEGG', 221.7, 605, 830, 3.3, 1.7, 6.4, 6.2, 7.6, 9.5)
legend(803/3, 838/3, 785/3, 651, [669, 677.3, 686.7, 698.3], [670.3, 679.7, 689, 702.3], kegg_legend_genes,
       np.interp(kegg_legend_genes, gene_xp_E, gene_dp_E), 'Gene_number', 6.6, 5.4, 720.7, 'pvalue')
caxE = px_axes(261.7, 733, 270.7, 778.7)
cbE = fig.colorbar(ScalarMappable(norm_E, enrich_cmap), cax=caxE, ticks=[0.01, 0.02, 0.03, 0.04])
cbE.ax.set_yticklabels(['0.01', '0.02', '0.03', '0.04'], style='italic', color='#222222')
cbE.ax.tick_params(length=1.5, color='white', direction='in', labelsize=5.4, pad=3)
cbE.outline.set_visible(False)

# ---------- panel letters ----------
for letter, lx, ly in (('A', 13, 12), ('B', 304, 12), ('C', 500, 12), ('D', 13, 322), ('E', 13, 584), ('F', 396, 564)):
    ov.text(lx, ly, letter, fontsize=12.5, fontweight='bold', family='Liberation Serif', va='center', ha='left', color='black')

fig.savefig('out.png', dpi=100)
